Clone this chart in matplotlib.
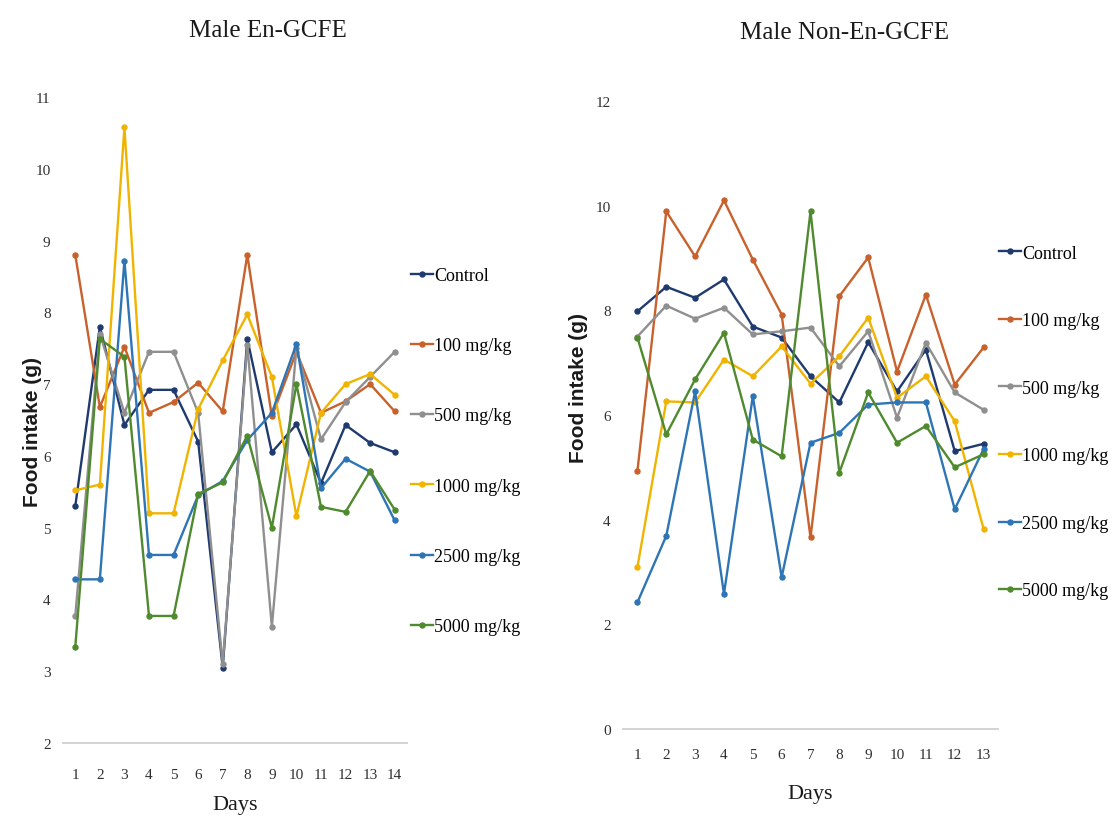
import matplotlib
matplotlib.use("Agg")
import matplotlib.pyplot as plt

# ---- data -------------------------------------------------------------
groups = ["Control", "100 mg/kg", "500 mg/kg", "1000 mg/kg", "2500 mg/kg", "5000 mg/kg"]
colors = ["#1f3a6e", "#c8612b", "#8f8f8f", "#f0b400", "#2e75b6", "#4f8a2e"]

days_en = list(range(1, 15))
en_control = [5.30, 7.80, 6.43, 6.92, 6.92, 6.20, 3.05, 7.63, 6.05, 6.44, 5.62, 6.43, 6.18, 6.05]
en_100 = [8.80, 6.68, 7.52, 6.60, 6.75, 7.02, 6.62, 8.80, 6.55, 7.45, 6.60, 6.76, 7.00, 6.62]
en_500 = [3.77, 7.70, 6.60, 7.45, 7.45, 6.60, 3.10, 7.55, 3.62, 7.50, 6.23, 6.75, 7.10, 7.45]
en_1000 = [5.52, 5.60, 10.58, 5.20, 5.20, 6.65, 7.33, 7.97, 7.10, 5.16, 6.60, 7.00, 7.14, 6.85]
en_2500 = [4.28, 4.28, 8.72, 4.62, 4.62, 5.45, 5.65, 6.22, 6.60, 7.56, 5.55, 5.96, 5.78, 5.10]
en_5000 = [3.34, 7.63, 7.38, 3.77, 3.77, 5.47, 5.63, 6.28, 5.00, 7.00, 5.29, 5.22, 5.79, 5.25]

days_non = list(range(1, 14))
non_control = [7.98, 8.45, 8.24, 8.59, 7.69, 7.48, 6.74, 6.24, 7.39, 6.45, 7.25, 5.31, 5.45]
non_100 = [4.93, 9.89, 9.03, 10.10, 8.97, 7.92, 3.66, 8.27, 9.01, 6.83, 8.30, 6.58, 7.29]
non_500 = [7.50, 8.09, 7.84, 8.05, 7.54, 7.60, 7.67, 6.93, 7.60, 5.95, 7.38, 6.43, 6.10]
non_1000 = [3.09, 6.26, 6.24, 7.06, 6.74, 7.31, 6.60, 7.12, 7.86, 6.33, 6.74, 5.88, 3.82]
non_2500 = [2.42, 3.69, 6.45, 2.58, 6.36, 2.90, 5.47, 5.66, 6.20, 6.24, 6.24, 4.20, 5.35]
non_5000 = [7.48, 5.63, 6.68, 7.57, 5.53, 5.21, 9.89, 4.90, 6.43, 5.47, 5.79, 5.00, 5.25]

en_series = [en_control, en_100, en_500, en_1000, en_2500, en_5000]
non_series = [non_control, non_100, non_500, non_1000, non_2500, non_5000]

en_yticks = list(range(2, 12))
non_yticks = list(range(0, 13, 2))

# ---- figure -----------------------------------------------------------
W, H = 1117, 829
fig = plt.figure(figsize=(W / 100, H / 100), dpi=100)
serif = "Liberation Serif"
sans = "Liberation Sans"


def px_axes(x0, x1, ybottom, ytop):
    return fig.add_axes([x0 / W, (H - ybottom) / H, (x1 - x0) / W, (ybottom - ytop) / H])


def style(ax, days, yticks, xpad):
    ax.set_xlim(0.5, days[-1] + 0.5)
    ax.set_ylim(yticks[0], yticks[-1])
    ax.set_xticks(days)
    ax.set_yticks(yticks)
    for s in ("top", "right", "left"):
        ax.spines[s].set_visible(False)
    ax.spines["bottom"].set_color("#d0d0d0")
    ax.spines["bottom"].set_linewidth(1.3)
    ax.tick_params(axis="both", length=0, labelsize=11, labelcolor="#303030")
    ax.tick_params(axis="x", pad=xpad)
    ax.tick_params(axis="y", pad=9)
    for lab in ax.get_xticklabels() + ax.get_yticklabels():
        lab.set_fontfamily(serif)
    ax.patch.set_alpha(0)


def draw(ax, days, series):
    handles = []
    for vals, c, name in zip(series, colors, groups):
        h, = ax.plot(days, vals, color=c, lw=1.7, marker="o", ms=3.6,
                     mfc=c, mec=c, label=name, solid_joinstyle="miter")
        handles.append(h)
    return handles


ax1 = px_axes(63, 407, 744, 98)
h1 = draw(ax1, days_en, en_series)
style(ax1, days_en, en_yticks, xpad=18)

ax2 = px_axes(623, 998, 730, 102)
h2 = draw(ax2, days_non, non_series)
style(ax2, days_non, non_yticks, xpad=14)

# titles
fig.text(268 / W, 1 - 31 / H, "Male En-GCFE", family=serif, fontsize=18,
         ha="center", va="center", color="#1a1a1a")
fig.text(844 / W, 1 - 33 / H, "Male Non-En-GCFE", family=serif, fontsize=18,
         ha="center", va="center", color="#1a1a1a")

# axis titles
fig.text(235 / W, 1 - 806 / H, "Days", family=serif, fontsize=16,
         ha="center", va="center", color="#1a1a1a")
fig.text(810 / W, 1 - 795 / H, "Days", family=serif, fontsize=16,
         ha="center", va="center", color="#1a1a1a")
fig.text(33 / W, 1 - 432 / H, "Food intake (g)", family=sans, fontsize=15,
         fontweight="bold", rotation=90, ha="center", va="center", color="#1a1a1a")
fig.text(578 / W, 1 - 388 / H, "Food intake (g)", family=sans, fontsize=15,
         fontweight="bold", rotation=90, ha="center", va="center", color="#1a1a1a")

# legends
leg_kw = dict(loc="center left", frameon=False, handlelength=1.2, handletextpad=0.1,
              borderpad=0, borderaxespad=0, prop={"family": serif, "size": 13},
              bbox_transform=fig.transFigure, markerscale=1.0)
fig.legend(h1, groups, bbox_to_anchor=(411 / W, 1 - 452 / H), labelspacing=2.95, **leg_kw)
fig.legend(h2, groups, bbox_to_anchor=(999 / W, 1 - 423 / H), labelspacing=2.8, **leg_kw)

fig.savefig("out.png", dpi=100)
